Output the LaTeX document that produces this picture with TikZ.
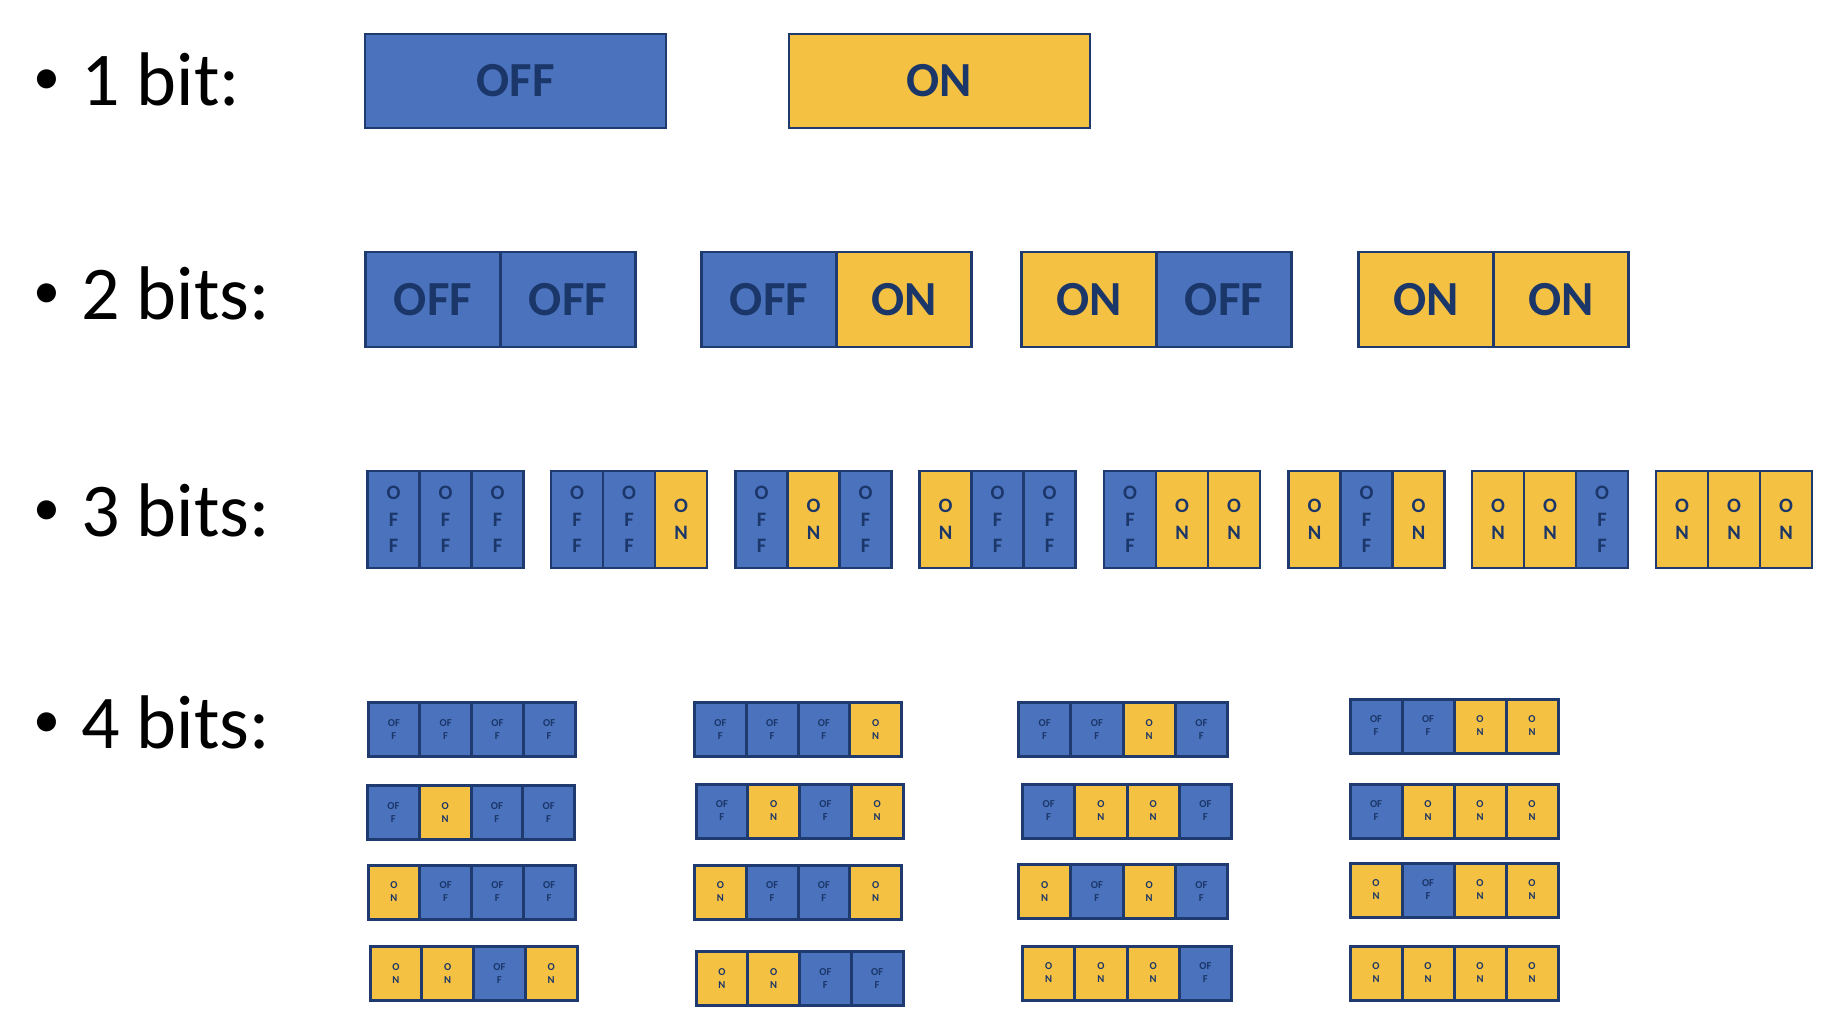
\documentclass[tikz,border=0pt]{standalone}
\usepackage{fontspec}
\setmainfont{Carlito}
\definecolor{cblue}{HTML}{4A72BD}
\definecolor{cyel}{HTML}{F5C143}
\definecolor{cline}{HTML}{1E3A6E}
\definecolor{ctext}{HTML}{1B3668}
\newcommand{\offtxtA}{OFF}
\newcommand{\ontxtA}{ON}
\newcommand{\offtxtB}{O\\F\\F}
\newcommand{\ontxtB}{O\\N}
\newcommand{\offtxtC}{OF\\F}
\newcommand{\ontxtC}{O\\N}
\tikzset{
  cell/.style={draw=cline, text=ctext, inner sep=0pt, outer sep=0pt, anchor=north west, align=center},
  bitoff/.style={fill=cblue},
  biton/.style={fill=cyel},
  kindA/.style={line width=2.5pt, font=\fontsize{49}{58}\selectfont\bfseries},
  kindB/.style={line width=2.5pt, font=\fontsize{20.5}{26.5}\selectfont\bfseries},
  kindC/.style={line width=3pt, font=\fontsize{10.6}{13}\selectfont\bfseries},
  lbl/.style={anchor=base west, inner sep=0pt, font=\fontsize{76}{90}\selectfont},
  dot/.style={anchor=base, inner sep=0pt, font=\fontsize{54}{60}\selectfont},
}
% #1 name, #2 x, #3 y, #4 cell width, #5 cell height, #6 kind, #7 states
\newcommand{\bitrow}[7]{%
  \foreach \s [count=\i from 0] in {#7} {
    \ifnum\s=1
      \node[cell, biton, kind#6, minimum width=#4pt, minimum height=#5pt] (#1-\i) at ({#2+\i*#4}, #3) {\csname ontxt#6\endcsname};
    \else
      \node[cell, bitoff, kind#6, minimum width=#4pt, minimum height=#5pt] (#1-\i) at ({#2+\i*#4}, #3) {\csname offtxt#6\endcsname};
    \fi
  }%
}
\begin{document}
\begin{tikzpicture}[x=1pt, y=-1pt]
\fill[white] (0,0) rectangle (1830,1024);
\useasboundingbox (0,0) rectangle (1830,1024);

% labels
\node[dot] (d1) at (47,95) {•};
\node[lbl] (l1) at (81,106) {1 bit:};
\node[dot] (d2) at (47,308) {•};
\node[lbl] (l2) at (81,319) {2 bits:};
\node[dot] (d3) at (47,525) {•};
\node[lbl] (l3) at (81,536) {3 bits:};
\node[dot] (d4) at (47,737) {•};
\node[lbl] (l4) at (81,748) {4 bits:};

% 1 bit
\bitrow{a1}{365}{34}{301}{94}{A}{0}
\bitrow{a2}{789}{34}{301}{94}{A}{1}

% 2 bits
\bitrow{b1}{365.5}{252}{135}{95}{A}{0,0}
\bitrow{b2}{701.5}{252}{135}{95}{A}{0,1}
\bitrow{b3}{1021.5}{252}{135}{95}{A}{1,0}
\bitrow{b4}{1358.5}{252}{135}{95}{A}{1,1}

% 3 bits
\bitrow{c1}{367.5}{471}{52}{97}{B}{0,0,0}
\bitrow{c2}{551}{471}{52}{97}{B}{0,0,1}
\bitrow{c3}{735.5}{471}{52}{97}{B}{0,1,0}
\bitrow{c4}{919.5}{471}{52}{97}{B}{1,0,0}
\bitrow{c5}{1104}{471}{52}{97}{B}{0,1,1}
\bitrow{c6}{1288.5}{471}{52}{97}{B}{1,0,1}
\bitrow{c7}{1472}{471}{52}{97}{B}{1,1,0}
\bitrow{c8}{1656}{471}{52}{97}{B}{1,1,1}

% 4 bits, column 1
\bitrow{e1}{368}{702.7}{51.75}{54}{C}{0,0,0,0}
\bitrow{e2}{367.5}{785.7}{51.75}{54}{C}{0,1,0,0}
\bitrow{e3}{368}{865}{51.75}{54}{C}{1,0,0,0}
\bitrow{e4}{370}{946.7}{51.75}{54}{C}{1,1,0,1}
% column 2
\bitrow{f1}{694.5}{702.7}{51.75}{54}{C}{0,0,0,1}
\bitrow{f2}{696}{784}{51.75}{54}{C}{0,1,0,1}
\bitrow{f3}{694.5}{865}{51.75}{54}{C}{1,0,0,1}
\bitrow{f4}{696}{951.7}{51.75}{54}{C}{1,1,0,0}
% column 3
\bitrow{g1}{1018.5}{702.7}{52.25}{54}{C}{0,0,1,0}
\bitrow{g2}{1022.5}{784}{52.25}{54}{C}{0,1,1,0}
\bitrow{g3}{1018.5}{864.3}{52.25}{54}{C}{1,0,1,0}
\bitrow{g4}{1022.5}{946}{52.25}{54}{C}{1,1,1,0}
% column 4
\bitrow{h1}{1350}{699}{52}{54}{C}{0,0,1,1}
\bitrow{h2}{1350}{784}{52}{54}{C}{0,1,1,1}
\bitrow{h3}{1350}{863}{52}{54}{C}{1,0,1,1}
\bitrow{h4}{1350}{946}{52}{54}{C}{1,1,1,1}
\end{tikzpicture}
\end{document}
